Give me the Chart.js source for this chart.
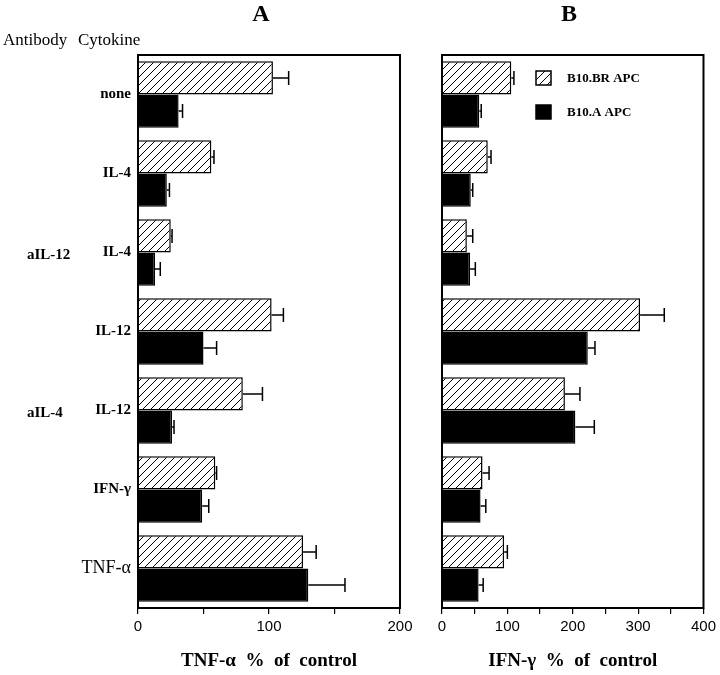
<!DOCTYPE html>
<html>
<head>
<meta charset="utf-8">
<script src="https://cdn.jsdelivr.net/npm/chart.js@4.4.1/dist/chart.umd.min.js"></script>
<style>
  body { margin: 0; background: #fff; }
  #wrap { position: relative; width: 720px; height: 675px; }
  canvas { position: absolute; left: 0; top: 0; }
</style>
</head>
<body>
<div id="wrap">
  <canvas id="chartA" width="720" height="675"></canvas>
  <canvas id="chartB" width="720" height="675"></canvas>
</div>
<script>
const cytokines = ['none', 'IL-4', 'IL-4', 'IL-12', 'IL-12', 'IFN-γ', 'TNF-α'];
const antibodies = ['', '', 'aIL-12', '', 'aIL-4', '', ''];
const seriesNames = ['B10.BR APC', 'B10.A APC'];

// panel A: TNF-a % of control
const tnfBR = [103, 56, 25, 102, 80, 59, 126];
const tnfBRErr = [12, 2, 1, 9, 15, 1, 10];
const tnfA = [31, 22, 13, 50, 26, 49, 130];
const tnfAErr = [3, 2, 4, 10, 1.5, 5, 28];

// panel B: IFN-g % of control
const ifnBR = [106, 70, 38, 303, 188, 62, 95];
const ifnBRErr = [4, 5, 9, 37, 23, 10, 5];
const ifnA = [57, 44, 43, 223, 204, 59, 56];
const ifnAErr = [3, 3, 8, 11, 29, 8, 7];

const ticksA = [0, 100, 200];
const ticksB = [0, 100, 200, 300, 400];

const serif = 'Liberation Serif';
const sans = 'Liberation Sans';

function makeHatch() {
  const c = document.createElement('canvas');
  c.width = 8; c.height = 8;
  const g = c.getContext('2d');
  g.fillStyle = '#fff';
  g.fillRect(0, 0, 8, 8);
  g.strokeStyle = '#000';
  g.lineWidth = 1;
  g.beginPath();
  g.moveTo(0, 8); g.lineTo(8, 0);
  g.moveTo(-1, 1); g.lineTo(1, -1);
  g.moveTo(7, 9); g.lineTo(9, 7);
  g.stroke();
  return g.createPattern(c, 'repeat');
}
const hatch = makeHatch();

// frame round the plot area + error bars
const framePlugin = {
  id: 'frame',
  afterDatasetsDraw(chart) {
    const ctx = chart.ctx;
    const a = chart.chartArea;
    const xs = chart.scales.x;
    ctx.save();
    ctx.strokeStyle = '#000';
    ctx.lineWidth = 1.5;
    chart.data.datasets.forEach((ds, di) => {
      const meta = chart.getDatasetMeta(di);
      meta.data.forEach((bar, i) => {
        const xe = xs.getPixelForValue(ds.data[i] + ds.err[i]);
        ctx.beginPath();
        ctx.moveTo(bar.x, bar.y);
        ctx.lineTo(xe, bar.y);
        ctx.moveTo(xe, bar.y - 7);
        ctx.lineTo(xe, bar.y + 7);
        ctx.stroke();
      });
    });
    ctx.lineWidth = 2;
    ctx.strokeRect(a.left, a.top, a.right - a.left, a.bottom - a.top);
    ctx.restore();
  }
};

const textPlugin = {
  id: 'texts',
  afterDraw(chart, args, opts) {
    const ctx = chart.ctx;
    const a = chart.chartArea;
    ctx.save();
    ctx.fillStyle = '#000';
    ctx.textAlign = 'center';
    ctx.textBaseline = 'alphabetic';
    ctx.font = 'bold 24px "' + serif + '"';
    ctx.fillText(opts.panel, opts.panelX, 21);
    if (opts.left) {
      ctx.textAlign = 'left';
      ctx.font = '17px "' + serif + '"';
      ctx.fillText('Antibody', 3, 45);
      ctx.fillText('Cytokine', 78, 45);
      ctx.font = 'bold 15px "' + serif + '"';
      ctx.textBaseline = 'middle';
      const ys = chart.scales.y;
      antibodies.forEach((t, i) => {
        if (t) ctx.fillText(t, 27, ys.getPixelForValue(i) + 3);
      });
    }
    if (opts.legend) {
      const lx = 536;
      const rows = [[71, hatch], [105, '#000']];
      ctx.textAlign = 'left';
      ctx.textBaseline = 'middle';
      ctx.font = 'bold 13px "' + serif + '"';
      ctx.lineWidth = 1.5;
      rows.forEach((r, i) => {
        ctx.fillStyle = r[1];
        ctx.fillRect(lx, r[0], 15, 14);
        ctx.strokeStyle = '#000';
        ctx.strokeRect(lx, r[0], 15, 14);
        ctx.fillStyle = '#000';
        ctx.fillText(seriesNames[i], 567, r[0] + 8);
      });
    }
    ctx.restore();
  }
};

function makeChart(id, br, brErr, ab, abErr, maxX, tickVals, xTitle, cfg) {
  return new Chart(document.getElementById(id), {
    type: 'bar',
    data: {
      labels: cytokines,
      datasets: [
        { label: seriesNames[0], data: br, err: brErr, backgroundColor: hatch, borderColor: '#000', borderWidth: 1.5 },
        { label: seriesNames[1], data: ab, err: abErr, backgroundColor: '#000', borderColor: '#000', borderWidth: 1.5 }
      ]
    },
    options: {
      indexAxis: 'y',
      responsive: false,
      animation: false,
      categoryPercentage: 0.84,
      barPercentage: 1.0,
      layout: { padding: { left: 0, right: cfg.right, top: 55, bottom: 0 } },
      plugins: {
        legend: { display: false },
        tooltip: { enabled: false },
        texts: cfg.texts
      },
      scales: {
        x: {
          min: 0, max: maxX,
          grid: { drawOnChartArea: false, tickLength: 6, color: '#000', lineWidth: 1.2 },
          border: { display: false },
          ticks: {
            stepSize: 50,
            padding: 4,
            color: '#000',
            font: { family: sans, size: 15 },
            callback: v => tickVals.includes(v) ? String(v) : ''
          },
          title: {
            display: true,
            text: xTitle,
            color: '#000',
            font: { family: serif, size: 19, weight: 'bold' },
            padding: { top: 0, bottom: 3 }
          },
          afterFit: s => { s.height = 67; }
        },
        y: {
          grid: { display: false, drawTicks: false },
          border: { display: false },
          ticks: {
            display: cfg.yLabels,
            padding: 7,
            color: '#000',
            font: c => c.index === 6
              ? { family: serif, size: 18, weight: 'normal' }
              : { family: serif, size: 15, weight: 'bold' }
          },
          afterFit: s => { s.width = cfg.yWidth; }
        }
      }
    },
    plugins: [framePlugin, textPlugin]
  });
}

makeChart('chartA', tnfBR, tnfBRErr, tnfA, tnfAErr, 200, ticksA, 'TNF-α  %  of  control', {
  right: 320, yWidth: 138, yLabels: true,
  texts: { panel: 'A', panelX: 261, left: true, legend: false }
});
makeChart('chartB', ifnBR, ifnBRErr, ifnA, ifnAErr, 400, ticksB, 'IFN-γ  %  of  control', {
  right: 16, yWidth: 442, yLabels: false,
  texts: { panel: 'B', panelX: 569, left: false, legend: true }
});
</script>
</body>
</html>
